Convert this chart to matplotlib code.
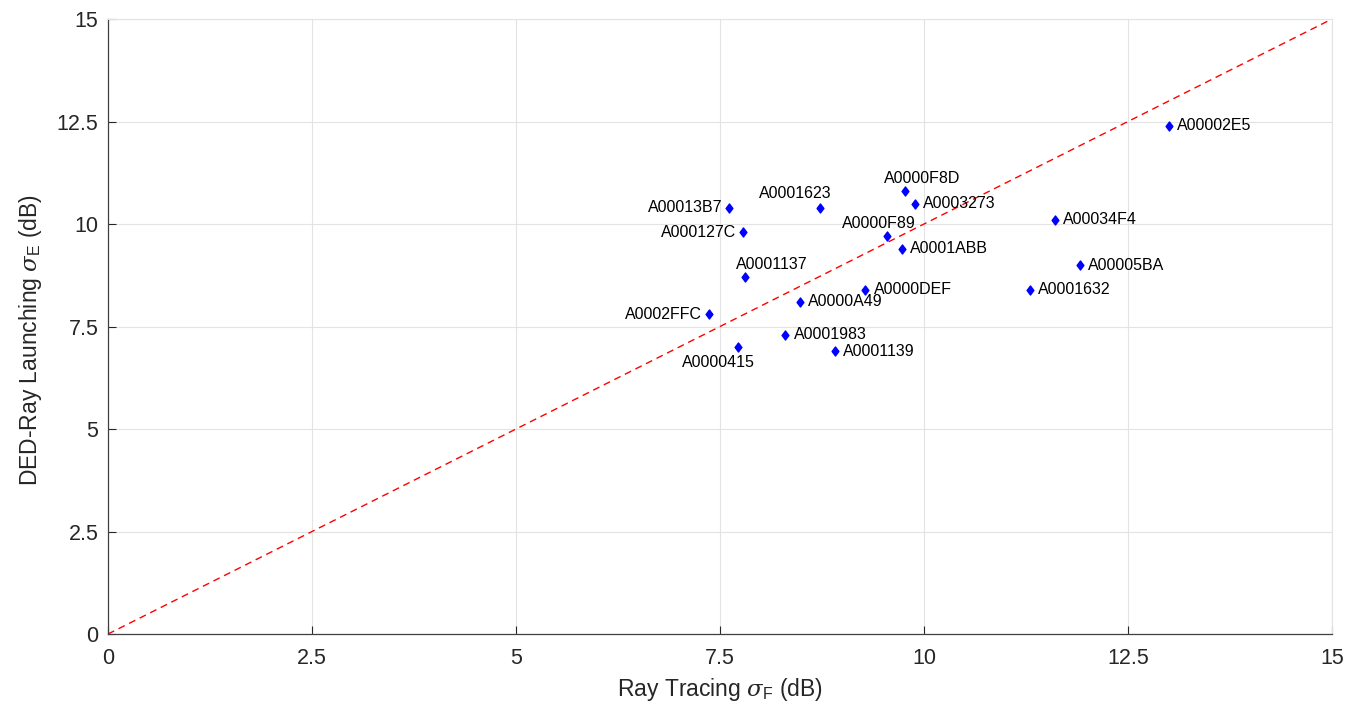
import numpy as np
import matplotlib.pyplot as plt
from matplotlib.path import Path

plt.rcParams['font.family'] = ['Liberation Sans', 'DejaVu Sans']
plt.rcParams['mathtext.fontset'] = 'custom'
plt.rcParams['mathtext.rm'] = 'Liberation Sans'
plt.rcParams['mathtext.it'] = 'DejaVu Serif:italic'

# per-site standard deviations (dB)
sites = ['A00002E5', 'A0000F8D', 'A0003273', 'A0001623', 'A00013B7', 'A000127C',
         'A0000F89', 'A0001ABB', 'A00034F4', 'A00005BA', 'A0001632', 'A0000DEF',
         'A0001137', 'A0000A49', 'A0002FFC', 'A0001983', 'A0000415', 'A0001139']
ray_tracing = [13.0, 9.77, 9.89, 8.73, 7.61, 7.78,
               9.55, 9.73, 11.6, 11.91, 11.3, 9.28,
               7.81, 8.48, 7.37, 8.3, 7.72, 8.91]
ded_ray = [12.4, 10.8, 10.5, 10.4, 10.4, 9.8,
           9.7, 9.4, 10.1, 9.0, 8.4, 8.4,
           8.7, 8.1, 7.8, 7.3, 7.0, 6.9]

# label placement: 'r' right, 'l' left, or (dx, dy) offsets in points, centred
placement = ['r', (12, 9), 'r', (-18, 10), 'l', 'l',
             (-6, 9), 'r', 'r', 'r', 'r', 'r',
             (19, 9), 'r', 'l', 'r', (-14, -11), 'r']

diamond = Path([(0, 1), (0.75, 0), (0, -1), (-0.75, 0), (0, 1)],
               [Path.MOVETO, Path.LINETO, Path.LINETO, Path.LINETO, Path.CLOSEPOLY])

ink = '#262626'
fig = plt.figure(figsize=(13.6, 7.04), dpi=100)
ax = fig.add_axes([0.0794, 0.0994, 0.9, 0.8736])

ax.plot([0, 15], [0, 15], '--', color='red', lw=1.0, dashes=(5, 3.5), zorder=2)
ax.plot(ray_tracing, ded_ray, linestyle='none', marker=diamond, color='blue',
        markersize=6.5, zorder=3)

for name, x, y, p in zip(sites, ray_tracing, ded_ray, placement):
    if p == 'r':
        off, ha = (6, 0), 'left'
    elif p == 'l':
        off, ha = (-5, 0), 'right'
    else:
        off, ha = p, 'center'
    ax.annotate(name, (x, y), xytext=off, textcoords='offset points',
                ha=ha, va='center', fontsize=11.5, color='black')

ax.set_xlim(0, 15)
ax.set_ylim(0, 15)
ticks = np.arange(0, 15.1, 2.5)
tick_labels = ['0', '2.5', '5', '7.5', '10', '12.5', '15']
ax.set_xticks(ticks)
ax.set_yticks(ticks)
ax.set_xticklabels(tick_labels)
ax.set_yticklabels(tick_labels)
ax.tick_params(direction='in', length=6, width=0.8, colors=ink, labelsize=15.5)
ax.tick_params(axis='x', pad=10)
ax.tick_params(axis='y', pad=7)
ax.grid(True, color='#e3e3e3', lw=0.8, zorder=0)
ax.set_axisbelow(True)

for s in ['left', 'bottom']:
    ax.spines[s].set_color('#404040')
    ax.spines[s].set_linewidth(0.9)
for s in ['top', 'right']:
    ax.spines[s].set_color('#e3e3e3')
    ax.spines[s].set_linewidth(0.8)

ax.set_xlabel(r'Ray Tracing $\sigma_{\mathrm{F}}$ (dB)', fontsize=16.5, color=ink, labelpad=5)
ax.set_ylabel(r'DED-Ray Launching $\sigma_{\mathrm{E}}$ (dB)', fontsize=16.5, color=ink)
ax.yaxis.set_label_coords(-0.052, 0.478)

fig.savefig('out.png', dpi=100)
